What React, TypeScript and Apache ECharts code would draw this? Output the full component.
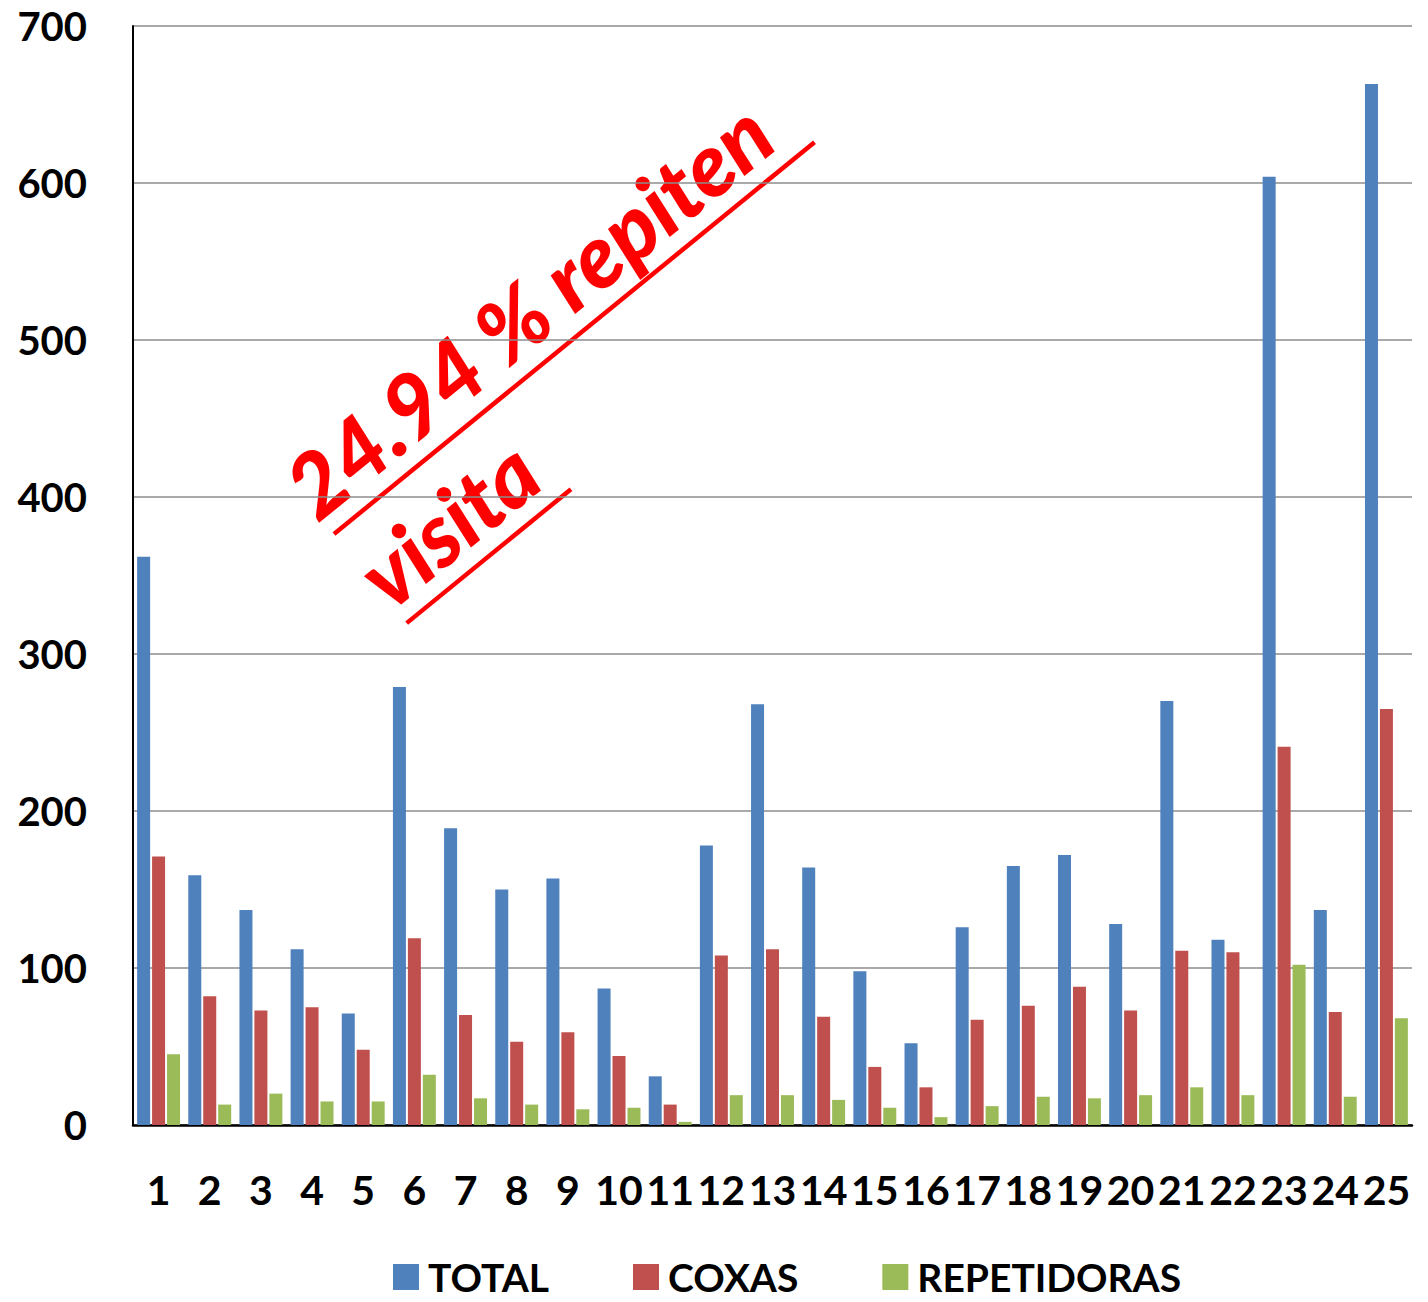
import React, { useEffect, useRef } from "react";
import * as echarts from "echarts";

const categories = ["1","2","3","4","5","6","7","8","9","10","11","12","13","14","15","16","17","18","19","20","21","22","23","24","25"];
const totalValues = [362,159,137,112,71,279,189,150,157,87,31,178,268,164,98,52,126,165,172,128,270,118,604,137,663];
const coxasValues = [171,82,73,75,48,119,70,53,59,44,13,108,112,69,37,24,67,76,88,73,111,110,241,72,265];
const repetidorasValues = [45,13,20,15,15,32,17,13,10,11,2,19,19,16,11,5,12,18,17,19,24,19,102,18,68];
const seriesNames = ["TOTAL", "COXAS", "REPETIDORAS"];
const annotationLine1 = "24.94 % repiten";
const annotationLine2 = "visita";

const FONT = "Lato, 'Open Sans', sans-serif";

export default function App() {
  const ref = useRef<HTMLDivElement>(null);
  useEffect(() => {
    if (!ref.current) return;
    const chart = echarts.init(ref.current, null, { renderer: "svg" });
    const colors = ["#4f81bd", "#c0504d", "#9bbb59"];
    const data = [totalValues, coxasValues, repetidorasValues];
    const annoStyle = {
      fontFamily: FONT,
      fontStyle: "italic",
      fontWeight: 900,
      fontSize: 88,
      fill: "#ff0000",
      verticalAlign: "middle",
      align: "left",
    };
    chart.setOption({
      animation: false,
      backgroundColor: "#ffffff",
      grid: { left: 133, right: 16, top: 26, bottom: 177, containLabel: false },
      legend: {
        left: 388,
        top: 1252,
        itemWidth: 26,
        itemHeight: 26,
        itemGap: 84,
        icon: "rect",
        textStyle: { fontFamily: FONT, fontWeight: "bold", fontSize: 39, lineHeight: 40, color: "#000", padding: [0, 0, 0, 4] },
        data: seriesNames,
      },
      xAxis: {
        type: "category",
        data: categories,
        axisLine: { show: true, lineStyle: { color: "#000", width: 2.5 } },
        axisTick: { show: false },
        axisLabel: { interval: 0, margin: 44, fontFamily: FONT, fontWeight: "bold", fontSize: 41, color: "#000" },
      },
      yAxis: {
        type: "value",
        min: 0,
        max: 700,
        interval: 100,
        axisLine: { show: true, lineStyle: { color: "#000", width: 2 } },
        axisTick: { show: false },
        splitLine: { show: true, lineStyle: { color: "#8c8c8c", width: 1.5 } },
        axisLabel: { margin: 46, fontFamily: FONT, fontWeight: "bold", fontSize: 40, color: "#000" },
      },
      series: seriesNames.map((name, i) => ({
        name,
        type: "bar",
        data: data[i],
        barWidth: 13,
        barGap: "15%",
        itemStyle: { color: colors[i] },
      })),
      graphic: [
        {
          type: "group",
          x: 334,
          y: 534,
          rotation: 0.684,
          children: [
            { type: "text", x: -6, y: -52, style: { ...annoStyle, text: annotationLine1 } },
            { type: "line", shape: { x1: 0, y1: 0, x2: 620, y2: 0 }, style: { stroke: "#ff0000", lineWidth: 4.5 } },
            { type: "text", x: -6, y: 63, style: { ...annoStyle, text: annotationLine2 } },
            { type: "line", shape: { x1: 0, y1: 115, x2: 212, y2: 115 }, style: { stroke: "#ff0000", lineWidth: 4.5 } },
          ],
        },
      ],
    });
    return () => chart.dispose();
  }, []);
  return <div ref={ref} style={{ position: "absolute", left: 0, top: 0, width: 1428, height: 1302 }} />;
}
